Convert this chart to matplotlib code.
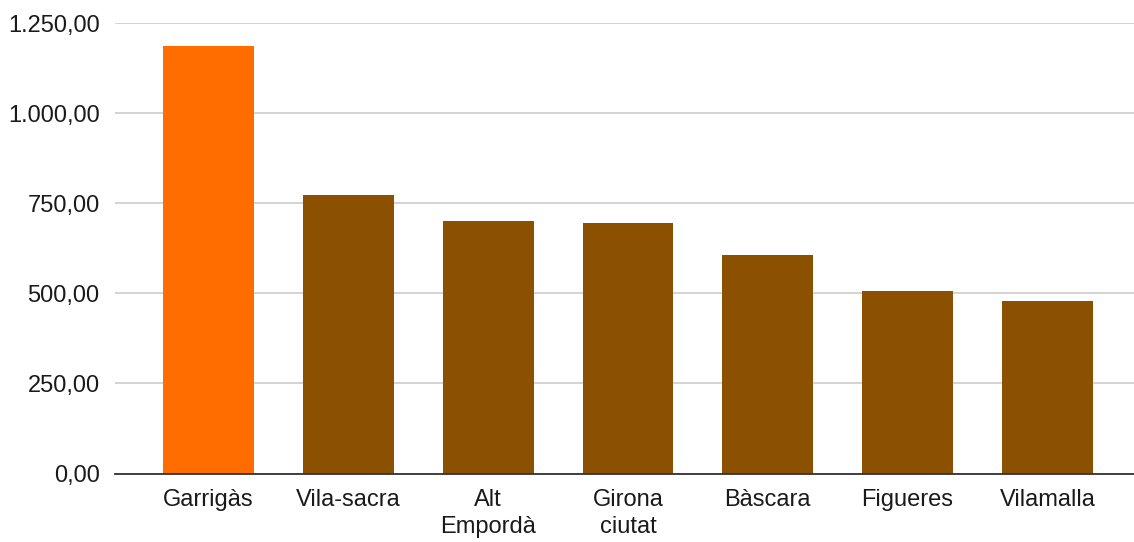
import matplotlib
matplotlib.use("Agg")
import matplotlib.pyplot as plt
from matplotlib.ticker import FuncFormatter, MultipleLocator

categories = ["Garrigàs", "Vila-sacra", "Alt\nEmpordà", "Girona\nciutat", "Bàscara", "Figueres", "Vilamalla"]
values = [1186, 773, 701, 696, 607, 507, 479]
bar_colors = ["#FF6D00", "#8B5000", "#8B5000", "#8B5000", "#8B5000", "#8B5000", "#8B5000"]

plt.rcParams['font.family'] = ['Liberation Sans', 'DejaVu Sans']

fig = plt.figure(figsize=(11.34, 5.42), dpi=100)
ax = fig.add_axes([115/1134, (542-473.5)/542, 1 - 115/1134, (473.5-23.3)/542])

x = list(range(len(categories)))
ax.bar(x, values, width=0.65, color=bar_colors, zorder=3)

ax.set_ylim(0, 1250)
ax.set_xlim(-0.67, 6.62)
ax.yaxis.set_major_locator(MultipleLocator(250))

def fmt(v, pos):
    s = f"{v:,.2f}"
    return s.replace(",", "X").replace(".", ",").replace("X", ".")

ax.yaxis.set_major_formatter(FuncFormatter(fmt))
ax.set_xticks(x)
ax.set_xticklabels(categories, fontsize=17, color="#1a1a1a", linespacing=1.3, va="top")
ax.tick_params(axis="y", labelsize=17, labelcolor="#1a1a1a", length=0, pad=11)
ax.tick_params(axis="x", length=0, pad=11)

ax.grid(axis="y", color="#cccccc", linewidth=1.2, zorder=0)
for s in ["top", "right", "left"]:
    ax.spines[s].set_visible(False)
ax.spines["bottom"].set_color("#333333")
ax.spines["bottom"].set_linewidth(1.3)
ax.spines["bottom"].set_zorder(4)

fig.savefig("out.png", dpi=100)
